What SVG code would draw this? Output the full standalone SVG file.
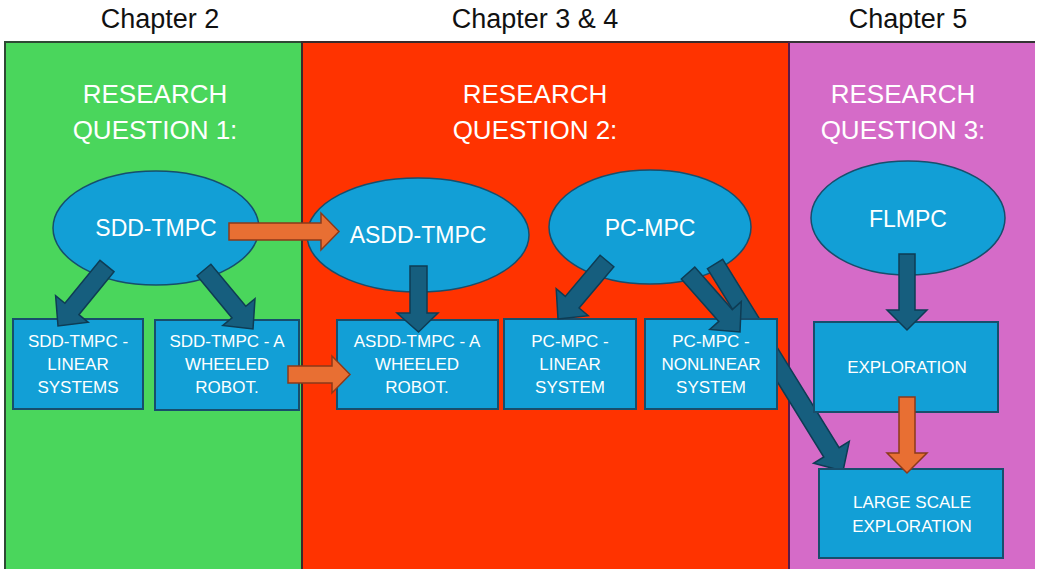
<svg xmlns="http://www.w3.org/2000/svg" width="1037" height="569" viewBox="0 0 1037 569">
<style>
.chap{font-family:"Liberation Sans",Arial,sans-serif;font-size:27px;fill:#111;text-anchor:middle}
.rq{font-family:"Liberation Sans",Arial,sans-serif;font-size:26px;fill:#fff;text-anchor:middle}
.el{fill:#129fd6;stroke:#174e6c;stroke-width:1.5}
.box{fill:#129fd6;stroke:#174e6c;stroke-width:2}
.big{font-family:"Liberation Sans",Arial,sans-serif;font-size:23px;fill:#fff;text-anchor:middle}
.sm{font-family:"Liberation Sans",Arial,sans-serif;font-size:17px;fill:#fff;text-anchor:middle}
.dk{fill:#165e7e;stroke:#0e3c54;stroke-width:1.5;stroke-linejoin:miter}
.or{fill:#e86f33;stroke:#8b3a1a;stroke-width:1.5;stroke-linejoin:miter}
</style>
<rect width="1037" height="569" fill="#fff"/>
<g id="panels">
<rect x="5" y="42" width="297" height="530" fill="#4ad65c" stroke="#2e4a34" stroke-width="2"/>
<rect x="302" y="42" width="487" height="530" fill="#ff3300" stroke="#3a2a2a" stroke-width="2"/>
<rect x="789" y="42" width="246" height="530" fill="#d56bc8"/>
<line x1="789" y1="42" x2="1035" y2="42" stroke="#333" stroke-width="2"/>
<line x1="789" y1="42" x2="789" y2="569" stroke="#5a1a4a" stroke-width="2"/>
</g>
<g id="headers">
<text class="chap" x="160" y="28">Chapter 2</text>
<text class="chap" x="535" y="28">Chapter 3 &amp; 4</text>
<text class="chap" x="908" y="28">Chapter 5</text>
<text class="rq" x="155" y="103">RESEARCH</text>
<text class="rq" x="155" y="139">QUESTION 1:</text>
<text class="rq" x="535" y="103">RESEARCH</text>
<text class="rq" x="535" y="139">QUESTION 2:</text>
<text class="rq" x="903" y="103">RESEARCH</text>
<text class="rq" x="903" y="139">QUESTION 3:</text>
</g>
<g id="n-sdd-tmpc"><ellipse class="el" cx="156" cy="228" rx="103" ry="57"/><text class="big" x="156" y="236">SDD-TMPC</text></g>
<g id="n-asdd-tmpc"><ellipse class="el" cx="418" cy="235" rx="111" ry="57"/><text class="big" x="418" y="243">ASDD-TMPC</text></g>
<g id="n-pc-mpc"><ellipse class="el" cx="650" cy="227" rx="101" ry="57"/><text class="big" x="650" y="236">PC-MPC</text></g>
<g id="n-flmpc"><ellipse class="el" cx="908" cy="218" rx="97" ry="57"/><text class="big" x="908" y="227">FLMPC</text></g>
<g id="connectors-back">
<polygon class="dk" points="707.4,268.7 823.8,457.0 813.6,463.3 843,471 849.3,441.3 839.1,447.6 722.7,259.3"/>
</g>
<g id="n-sdd-linear"><rect class="box" x="13" y="319" width="130" height="90"/><text class="sm" x="78" y="347">SDD-TMPC -</text><text class="sm" x="78" y="370">LINEAR</text><text class="sm" x="78" y="393">SYSTEMS</text></g>
<g id="n-sdd-robot"><rect class="box" x="155" y="320" width="144" height="90"/><text class="sm" x="227" y="347">SDD-TMPC - A</text><text class="sm" x="227" y="370">WHEELED</text><text class="sm" x="227" y="393">ROBOT.</text></g>
<g id="n-asdd-robot"><rect class="box" x="337" y="320" width="161" height="89"/><text class="sm" x="417" y="347">ASDD-TMPC - A</text><text class="sm" x="417" y="370">WHEELED</text><text class="sm" x="417" y="393">ROBOT.</text></g>
<g id="n-pc-linear"><rect class="box" x="504" y="319" width="132" height="90"/><text class="sm" x="570" y="347">PC-MPC -</text><text class="sm" x="570" y="370">LINEAR</text><text class="sm" x="570" y="393">SYSTEM</text></g>
<g id="n-pc-nonlinear"><rect class="box" x="645" y="319" width="132" height="90"/><text class="sm" x="711" y="347">PC-MPC -</text><text class="sm" x="711" y="370">NONLINEAR</text><text class="sm" x="711" y="393">SYSTEM</text></g>
<g id="n-exploration"><rect class="box" x="814" y="322" width="184" height="90"/><text class="sm" x="907" y="373">EXPLORATION</text></g>
<g id="n-large-exploration"><rect class="box" x="819" y="469" width="184" height="89"/><text class="sm" x="912" y="508">LARGE SCALE</text><text class="sm" x="912" y="532">EXPLORATION</text></g>
<g id="connectors">
<polygon class="dk" points="114.0,271.7 78.9,314.7 88.2,322.3 58,326 55.6,295.7 64.9,303.3 100.0,260.3"/>
<polygon class="dk" points="197.1,275.8 232.0,317.9 222.8,325.5 253,329 255.0,298.7 245.8,306.3 210.9,264.2"/>
<polygon class="or" points="229,223 321,223 321,213 339,231.5 321,250 321,240 229,240"/>
<polygon class="or" points="288,366 332,366 332,356 350,374.5 332,393 332,383 288,383"/>
<polygon class="dk" points="410,266 427,266 427,313 438,313 418.5,332 397,313 410,313"/>
<polygon class="dk" points="613.9,266.8 579.1,308.0 588.2,315.7 558,319 556.2,288.7 565.3,296.4 600.1,255.2"/>
<polygon class="dk" points="681.3,279.0 718.8,321.4 709.8,329.4 740,332 741.3,301.6 732.3,309.6 694.8,267.1"/>
<polygon class="dk" points="899,254 915,254 915,310 927,310 907,330 887,310 899,310"/>
<polygon class="or" points="899,397 915,397 915,453 927,453 907,473 887,453 899,453"/>
</g>
</svg>
